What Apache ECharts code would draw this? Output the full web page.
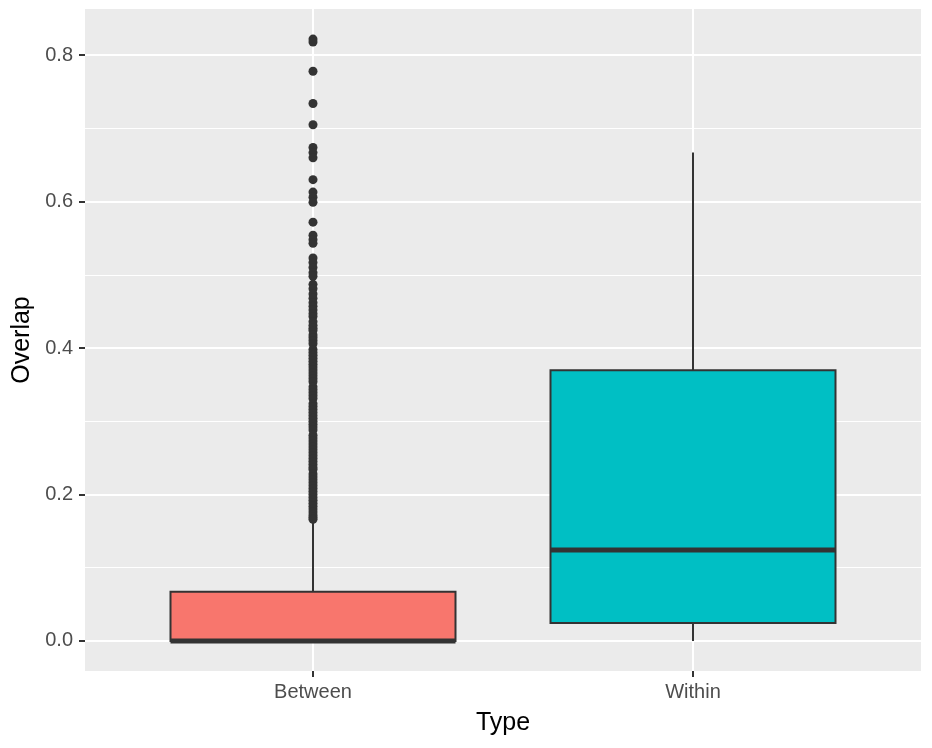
<!DOCTYPE html>
<html>
<head>
<meta charset="utf-8">
<script src="https://cdn.jsdelivr.net/npm/echarts@6/dist/echarts.min.js"></script>
<style>
  html, body { margin: 0; padding: 0; background: #fff; }
  #chart-container { width: 932px; height: 748px; }
</style>
</head>
<body>
<div id="chart-container"></div>
<script>
// categories along x (placed at 1 and 2 like ggplot's discrete scale)
const categories = ['Between', 'Within'];
const catPos = [1, 2];
// [min, Q1, median, Q3, max] per category
const boxStats = [
  [0, 0, 0, 0.067, 0.163],
  [0, 0.0246, 0.124, 0.3697, 0.667]
];
const boxColors = ['#F8766D', '#00BFC4'];
// outliers of "Between"
const betweenOutliers = [
  0.822, 0.818, 0.778, 0.734, 0.705, 0.674, 0.667, 0.660, 0.630, 0.613,
  0.606, 0.599, 0.572, 0.554, 0.548, 0.543, 0.523, 0.517, 0.510, 0.503,
  0.498, 0.487, 0.481, 0.474, 0.468, 0.462, 0.457, 0.452, 0.447, 0.443,
  0.436, 0.431, 0.427, 0.424, 0.418, 0.414, 0.410, 0.406, 0.398, 0.394,
  0.390, 0.386, 0.382, 0.378, 0.374, 0.370, 0.366, 0.362, 0.358, 0.354,
  0.347, 0.343, 0.339, 0.335, 0.331, 0.324, 0.320, 0.316, 0.312, 0.308,
  0.304, 0.300, 0.296, 0.292, 0.288, 0.281, 0.277, 0.273, 0.269, 0.265,
  0.261, 0.257, 0.253, 0.249, 0.245, 0.241, 0.237, 0.234, 0.228, 0.224,
  0.220, 0.216, 0.212, 0.208, 0.204, 0.200, 0.196, 0.192, 0.188, 0.184,
  0.180, 0.176, 0.172, 0.169, 0.166
];
const yMajor = [0, 0.2, 0.4, 0.6, 0.8];
const yMinor = [0.1, 0.3, 0.5, 0.7];
const yMin = -0.0411, yMax = 0.8631;

const start = () => {
  const chartDom = document.getElementById('chart-container');
  const myChart = echarts.init(chartDom, null, { renderer: 'canvas' });
  const font = '"Liberation Sans", Arial, sans-serif';

  const boxData = boxStats.map((s, i) => [catPos[i]].concat(s));

  const renderBox = (params, api) => {
    const x = api.value(0);
    const half = 0.375;
    const lo = api.coord([x, api.value(1)]);
    const q1 = api.coord([x, api.value(2)]);
    const med = api.coord([x, api.value(3)]);
    const q3 = api.coord([x, api.value(4)]);
    const hi = api.coord([x, api.value(5)]);
    const left = api.coord([x - half, 0])[0];
    const right = api.coord([x + half, 0])[0];
    const stroke = '#333333';
    return {
      type: 'group',
      children: [
        { type: 'line', shape: { x1: lo[0], y1: lo[1], x2: q1[0], y2: q1[1] }, style: { stroke, lineWidth: 2 } },
        { type: 'line', shape: { x1: q3[0], y1: q3[1], x2: hi[0], y2: hi[1] }, style: { stroke, lineWidth: 2 } },
        { type: 'rect', shape: { x: left, y: q3[1], width: right - left, height: q1[1] - q3[1] },
          style: { fill: boxColors[params.dataIndex], stroke, lineWidth: 2 } },
        { type: 'line', shape: { x1: left, y1: med[1], x2: right, y2: med[1] }, style: { stroke, lineWidth: 5 } }
      ]
    };
  };

  const option = {
    animation: false,
    grid: {
      left: 85, right: 11, top: 9, bottom: 77,
      outerBoundsMode: 'none', containLabel: false,
      show: true, backgroundColor: '#EBEBEB', borderWidth: 0
    },
    xAxis: {
      type: 'value', min: 0.4, max: 2.6,
      name: 'Type', nameLocation: 'middle', nameGap: 40,
      nameTextStyle: { fontSize: 25, color: '#000', fontFamily: font },
      axisLine: { show: false, onZero: false },
      axisTick: { show: true, length: 6, customValues: catPos, lineStyle: { color: '#333', width: 2 } },
      axisLabel: {
        customValues: catPos, margin: 11, fontSize: 20, color: '#4D4D4D', fontFamily: font,
        formatter: v => categories[catPos.indexOf(v)] || ''
      },
      splitLine: { show: true, lineStyle: { color: '#fff', width: 2 } }
    },
    yAxis: [{
      type: 'value', min: yMin, max: yMax,
      name: 'Overlap', nameLocation: 'middle', nameGap: 48, nameRotate: 90,
      nameTextStyle: { fontSize: 25, color: '#000', fontFamily: font },
      axisLine: { show: false, onZero: false },
      axisTick: { show: true, length: 6, customValues: yMajor, lineStyle: { color: '#333', width: 2 } },
      axisLabel: {
        customValues: yMajor, margin: 12, fontSize: 20, color: '#4D4D4D', fontFamily: font,
        formatter: v => v.toFixed(1)
      },
      splitLine: { show: true, lineStyle: { color: '#fff', width: 2 } }
    }, {
      type: 'value', min: yMin, max: yMax, position: 'left',
      axisLine: { show: false, onZero: false },
      axisTick: { show: false, customValues: yMinor },
      axisLabel: { show: false, customValues: yMinor },
      splitLine: { show: true, lineStyle: { color: '#fff', width: 1 } }
    }],
    series: [
      {
        type: 'custom',
        renderItem: renderBox,
        data: boxData,
        encode: { x: 0, y: [1, 2, 3, 4, 5] }
      },
      {
        type: 'scatter',
        symbolSize: 9,
        itemStyle: { color: '#333333', opacity: 1 },
        data: betweenOutliers.map(v => [catPos[0], v])
      }
    ]
  };
  myChart.setOption(option);
};

start();
</script>
</body>
</html>
